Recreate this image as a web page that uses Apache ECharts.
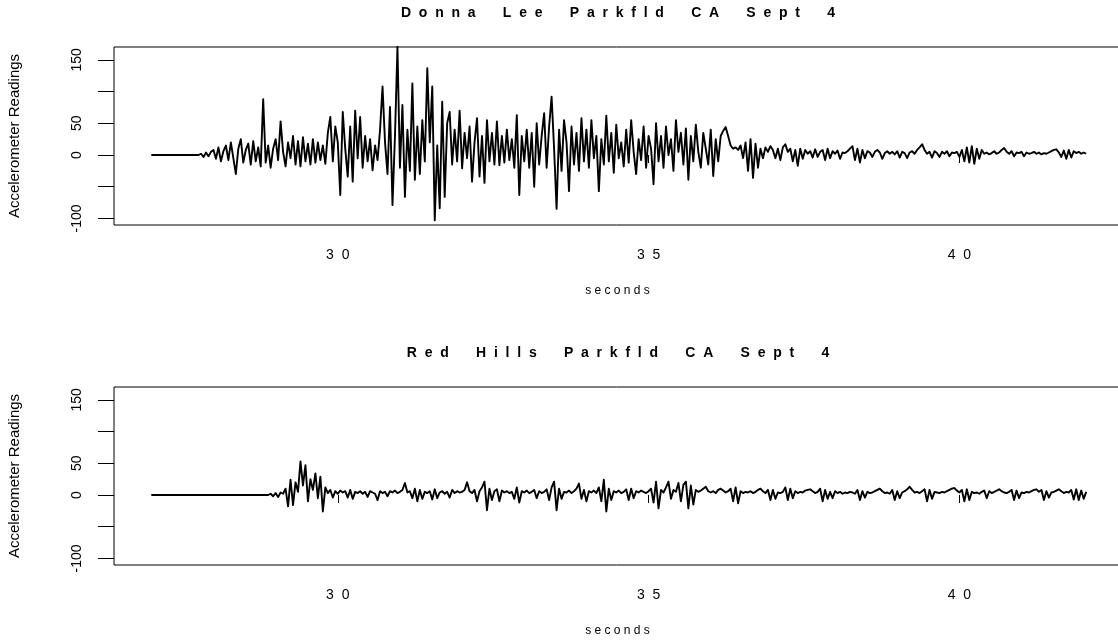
<!DOCTYPE html>
<html>
<head>
<meta charset="utf-8">
<script src="https://cdn.jsdelivr.net/npm/echarts@6/dist/echarts.min.js"></script>
<style>
html,body{margin:0;padding:0;background:#fff;}
#chart{width:1118px;height:641px;}
</style>
</head>
<body>
<div id="chart"></div>
<script>
// ---- data ----
const titles = ['Donna Lee Parkfld CA Sept 4', 'Red Hills Parkfld CA Sept 4'];
const xName = 'seconds';
const yName = 'Accelerometer Readings';
const xTicks = [30, 35, 40];
const yTicks = [-100, -50, 0, 50, 100, 150];
const yLabels = [-100, 0, 50, 150];
const T0 = 27.0;     // first sample time (s)
const DT = 0.04;     // sample spacing (s)

const donnaLee = [
0,0,0,0,0,0,0,0,0,0,0,0,0,0,0,0,0,0,0,0,
2,-3,4,-2,5,
8,-6,12,-10,6,15,-8,20,-5,-30,10,25,-12,8,18,-15,22,-10,12,-18,88,-12,15,-20,10,
25,-8,53,5,-18,20,-5,30,-15,22,-18,28,-10,18,-15,25,-12,20,-8,15,-14,35,60,-10,45,
20,-63,68,10,-34,45,-42,70,-5,60,-20,30,-10,25,-24,15,-8,40,108,20,-30,76,-79,30,171,
-20,79,-66,40,-25,113,-39,45,-30,55,-10,137,20,108,-103,15,-84,84,-66,50,68,-15,40,-10,70,
-21,35,-5,45,-42,20,58,-34,30,-44,55,-10,35,-15,53,-16,30,-12,40,-8,25,-20,63,-63,30,
-10,40,-20,35,-50,50,-15,30,66,-20,45,92,10,-85,40,-25,55,20,-57,45,-15,35,-25,58,-10,
40,-20,55,-5,30,-57,25,-15,62,-10,35,-28,48,-5,20,-18,40,-12,55,5,-30,25,-8,45,-20,
30,10,-46,50,-10,30,-20,45,0,25,-25,55,5,35,-15,42,-39,30,-10,48,5,-20,35,10,-15,
40,-33,25,-10,30,38,44,30,15,10,12,8,15,-5,20,-25,25,-36,18,-20,10,-5,12,5,14,
8,-5,10,-8,12,17,5,10,-10,8,-17,10,-6,8,2,6,-4,9,-3,5,8,-8,10,-5,6,
2,7,-6,4,3,6,10,14,-8,10,-12,8,-5,6,4,-3,5,8,4,-6,3,6,2,5,1,
6,-4,5,3,-5,4,6,2,8,12,17,8,2,5,-4,6,3,-3,5,2,6,-2,4,3,5,
-3,8,-10,12,-12,14,-14,10,-6,8,2,4,1,3,6,2,4,8,11,5,2,6,-2,4,3,
5,-2,4,2,3,5,2,4,1,3,2,4,6,8,9,4,-3,7,-6,8,-4,6,3,5,2,4,2
];

const redHills = [
0,0,0,0,0,0,0,0,0,0,0,0,0,0,0,0,0,0,0,0,0,0,0,0,
0,0,0,0,0,0,0,0,0,0,0,0,0,0,0,0,0,0,0,0,0,0,0,0,
2,-2,
3,-3,4,2,10,-18,24,-16,20,5,53,15,47,-10,25,8,34,-5,29,-26,12,3,8,-4,6,
2,7,4,6,-4,8,-6,5,3,6,2,5,-3,6,4,2,-8,6,3,5,-2,6,4,7,3,
5,8,19,4,6,-5,10,-10,8,-6,5,3,6,-7,9,-5,4,6,2,5,-4,8,3,6,4,
5,8,20,6,3,8,-10,6,12,21,-24,10,-8,6,9,-10,7,4,6,3,5,-6,12,-12,6,
4,7,3,5,8,-5,6,3,5,9,-8,12,21,-24,10,-6,5,4,7,3,6,10,18,-6,8,
-10,6,4,7,3,12,-10,24,-26,10,-8,6,4,7,3,5,9,-8,10,-5,6,4,7,5,3,
6,10,-12,21,-21,8,4,12,21,-6,8,5,19,-10,16,21,-21,15,-15,8,5,7,10,13,6,
4,6,3,8,10,7,4,6,10,-10,12,-13,6,3,5,4,6,3,5,8,10,6,3,8,-8,
8,-6,4,3,5,12,-8,10,-5,6,3,5,4,7,8,9,6,3,5,10,-10,8,-6,5,-5,
6,3,5,2,4,3,5,4,2,8,-8,6,-4,5,3,4,6,8,10,6,3,4,2,8,-8,
6,-5,4,6,9,13,8,4,5,3,6,9,-10,8,-6,5,4,3,5,4,6,8,10,11,7,
4,8,-10,9,-8,5,3,4,2,5,7,-5,6,3,5,7,9,6,4,3,5,8,-8,7,-5,
4,3,5,4,6,8,9,5,8,-8,6,-4,4,5,7,9,6,3,5,4,8,-7,9,-8,7,-6,5
];

// ---- build ----
function spaced(text, intra, word) {
  return text.split(' ').map(w => w.split('').join(intra)).join(word);
}
function pairs(vals) {
  return vals.map((v, i) => [+(T0 + i * DT).toFixed(2), v]);
}
const FONT = 'Liberation Sans, Arial, Helvetica, sans-serif';
const panels = [donnaLee, redHills];
const gridTops = [47, 387];
const PH = 178;

const option = {
  animation: false,
  backgroundColor: '#fff',
  title: titles.map((t, k) => ({
    text: spaced(t, '  ', '       '),
    left: 618, top: gridTops[k] - 41, textAlign: 'center', padding: 0,
    textStyle: { fontFamily: FONT, fontSize: 14, fontWeight: 'bold', color: '#000' }
  })),
  grid: gridTops.map(top => ({
    left: 114, top: top, width: 1007, height: PH,
    show: true, borderColor: '#000', borderWidth: 1, backgroundColor: 'transparent',
    outerBoundsMode: 'none', containLabel: false
  })),
  xAxis: gridTops.map((_, k) => ({
    type: 'value', gridIndex: k, min: 26.4, max: 42.6,
    splitLine: { show: false },
    axisLine: { show: false },
    axisTick: { show: true, length: 8, customValues: xTicks, lineStyle: { color: '#000', width: 1 } },
    axisLabel: {
      show: true, customValues: xTicks, margin: 23, color: '#000',
      fontFamily: FONT, fontSize: 14,
      formatter: v => String(v).split('').join('  ')
    },
    name: xName.split('').join(' '), nameLocation: 'middle', nameGap: 60,
    nameTextStyle: { fontFamily: FONT, fontSize: 12, color: '#000' }
  })),
  yAxis: gridTops.map((_, k) => ({
    type: 'value', gridIndex: k, min: -110.4, max: 170.4,
    splitLine: { show: false },
    axisLine: { show: false },
    axisTick: { show: true, length: 16, customValues: yTicks, lineStyle: { color: '#000', width: 1 } },
    axisLabel: {
      show: true, customValues: yLabels, margin: 30, rotate: 90, color: '#000',
      fontFamily: FONT, fontSize: 14
    },
    name: yName, nameLocation: 'middle', nameGap: 92, nameRotate: 90,
    nameTextStyle: { fontFamily: FONT, fontSize: 15, color: '#000' }
  })),
  series: panels.map((vals, k) => ({
    type: 'line', xAxisIndex: k, yAxisIndex: k,
    data: pairs(vals), showSymbol: false, symbol: 'none',
    lineStyle: { color: '#000', width: 1.9, join: 'round' },
    emphasis: { disabled: true }, silent: true, clip: true
  }))
};

const chart = echarts.init(document.getElementById('chart'), null, { renderer: 'canvas' });
chart.setOption(option);
</script>
</body>
</html>
